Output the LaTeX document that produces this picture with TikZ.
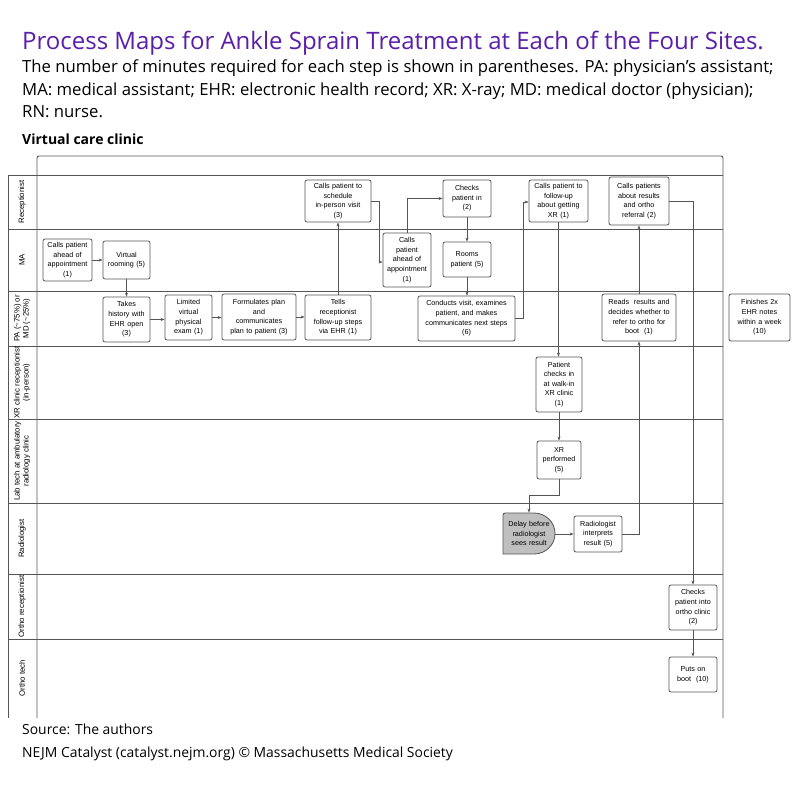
\documentclass[tikz,border=0pt]{standalone}
\usepackage{fontspec}
\setmainfont{Open Sans}
\newfontfamily\dgm{Liberation Sans}
\usetikzlibrary{arrows.meta}
\definecolor{nejm}{HTML}{5A1EA8}
\definecolor{ln}{HTML}{555555}
\begin{document}
\begin{tikzpicture}[x=1pt,y=-1pt,
  box/.style={draw=ln,line width=0.8pt,rounded corners=2pt,align=center,inner sep=1pt,font=\dgm\fontsize{7.2}{9.6}\selectfont},
  lane/.style={draw=ln,line width=0.9pt},
  lbl/.style={rotate=90,align=center,font=\dgm\fontsize{7.8}{9}\selectfont},
  txt/.style={anchor=base west,inner sep=0},
  arr/.style={draw=ln,line width=0.7pt,-{Stealth[length=4pt,width=3pt]}}]
\useasboundingbox (0,0) rectangle (800,800);
\node[txt,text=nejm,font=\fontsize{24}{28}\selectfont] (title) at (22,50) {Process Maps for Ankle Sprain Treatment at Each of the Four Sites.};
\node[txt,font=\fontsize{16.7}{20}\selectfont] (sub1) at (22,73) {The number of minutes required for each step is shown in parentheses. PA: physician’s assistant;};
\node[txt,font=\fontsize{16.7}{20}\selectfont] (sub2) at (22,95) {MA: medical assistant; EHR: electronic health record; XR: X-ray; MD: medical doctor (physician);};
\node[txt,font=\fontsize{16.7}{20}\selectfont] (sub3) at (22,117) {RN: nurse.};
\node[txt,font=\bfseries\fontsize{14}{16}\selectfont] (vcc) at (22,144) {Virtual care clinic};
% frame
\draw[lane,rounded corners=2pt] (37,718) -- (37,156) -- (723,156) -- (723,718);
\foreach \y in {175,229,291,346,419,503,574,639}{\draw[lane] (8,\y) -- (723,\y);}
\draw[lane] (8,175) -- (8,718);
\node[lbl] (l1) at (22,202) {Receptionist};
\node[lbl] (l2) at (22,260) {MA};
\node[lbl] (l3) at (22,318.5) {PA (\textasciitilde75\%) or\\MD (\textasciitilde25\%)};
\node[lbl] (l4) at (22,382.5) {XR clinic receptionist\\(in-person)};
\node[lbl] (l5) at (22,461) {Lab tech at ambulatory\\radiology clinic};
\node[lbl] (l6) at (22,538.5) {Radiologist};
\node[lbl] (l7) at (22,606.5) {Ortho receptionist};
\node[lbl] (l8) at (22,678) {Ortho tech};
% nodes
\newcommand\bx[6]{\node[box,minimum width=#4,minimum height=#5,text width=#4-3] (#1) at (#2,#3) {#6};}
\bx{ca1}{67.5}{260}{49}{42}{Calls patient\\ahead of\\appointment\\(1)}
\bx{vr}{126.5}{260}{47}{38}{Virtual\\rooming (5)}
\bx{th}{126.5}{319.5}{47}{45}{Takes\\history with\\EHR open\\(3)}
\bx{lv}{188.5}{317.5}{47}{45}{Limited\\virtual\\physical\\exam (1)}
\bx{fp}{259}{317}{74}{46}{Formulates plan\\and\\communicates\\plan to patient (3)}
\bx{tr}{338}{317.5}{66}{45}{Tells\\receptionist\\follow-up steps\\via EHR (1)}
\bx{sc}{338}{201}{66}{42}{Calls patient to\\schedule\\in-person visit\\(3)}
\bx{ca2}{407}{260}{48}{54}{Calls\\patient\\ahead of\\appointment\\(1)}
\bx{cp}{467}{198.5}{48}{37}{Checks\\patient in\\(2)}
\bx{rp}{467}{259.5}{48}{35}{Rooms\\patient (5)}
\bx{cv}{466.5}{318.5}{97}{45}{Conducts visit, examines\\patient, and makes\\communicates next steps\\(6)}
\bx{cf}{558.5}{201}{59}{42}{Calls patient to\\follow-up\\about getting\\XR (1)}
\bx{cr}{639}{201}{60}{48}{Calls patients\\about results\\and ortho\\referral (2)}
\bx{rr}{639}{317.5}{74}{47}{Reads\ \ results and\\decides whether to\\refer to ortho for\\boot\ \ (1)}
\bx{fn}{759.5}{317.5}{61}{47}{Finishes 2x\\EHR notes\\within a week\\(10)}
\bx{pc}{559}{384.5}{46}{55}{Patient\\checks in\\at walk-in\\XR clinic\\(1)}
\bx{xr}{559}{460}{44}{38}{XR\\performed\\(5)}
\draw[draw=ln,line width=0.8pt,fill=black!25] (503,513) -- (534,513) to[out=0,in=90] (555,533.5) to[out=-90,in=0] (534,554) -- (503,554) [rounded corners=2pt]-- cycle;
\node[box,draw=none,minimum width=52,minimum height=41,text width=50] (dl) at (529,533.5) {Delay before\\radiologist\\sees result};
\bx{ri}{598}{534}{48}{36}{Radiologist\\interprets\\result (5)}
\bx{co}{693}{607.5}{48}{45}{Checks\\patient into\\ortho clinic\\(2)}
\bx{pb}{693}{674.5}{48}{35}{Puts on\\boot\ \ (10)}
% connectors
\draw[arr] (ca1) -- (vr);
\draw[arr] (vr) -- (th);
\draw[arr] (th.east) -- (lv.west|-th.east);
\draw[arr] (lv.east) -- (fp.west|-lv.east);
\draw[arr] (fp.east) -- (tr.west|-fp.east);
\draw[arr] (tr) -- (sc);
\draw[arr] (sc.east) -| (379,262) -- (ca2.west|-0,262);
\draw[arr] (ca2.north) |- (cp.west);
\draw[arr] (cp) -- (rp);
\draw[arr] (rp) -- (cv.north-|rp);
\draw[arr] (cv.east) -| (523,202) -- (cf.west|-0,202);
\draw[arr] (cf.south) -- (pc.north-|cf.south);
\draw[arr] (pc) -- (xr);
\draw[arr] (xr.south) |- (529,495) -- (dl.north);
\draw[arr] (555,534) -- (ri.west);
\draw[arr] (ri.east) -| (rr.south);
\draw[arr] (rr) -- (cr);
\draw[arr] (cr.east) -| (co.north);
\draw[arr] (co) -- (pb);
% footer
\node[txt,font=\fontsize{13.9}{16}\selectfont] (src) at (22,734) {Source: The authors};
\node[txt,font=\fontsize{13.9}{16}\selectfont] (cr2) at (22,757) {NEJM Catalyst (catalyst.nejm.org) © Massachusetts Medical Society};
\end{tikzpicture}
\end{document}
